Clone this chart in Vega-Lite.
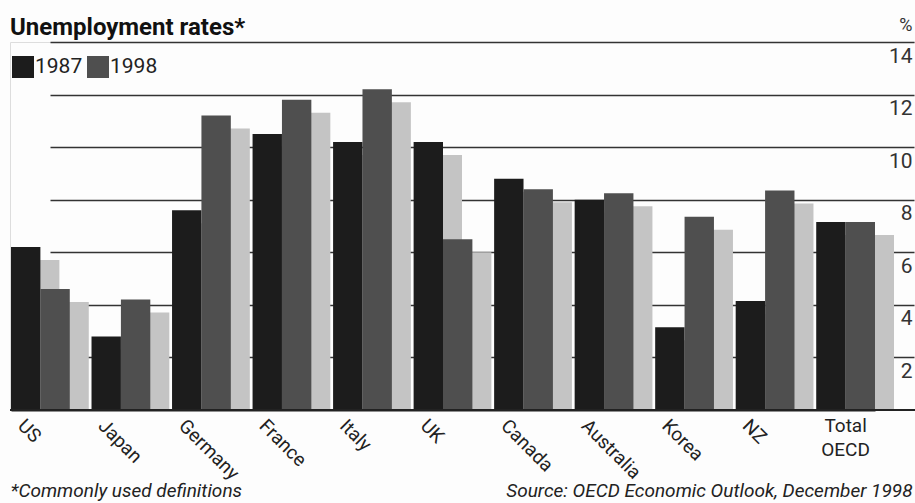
{
  "$schema": "https://vega.github.io/schema/vega-lite/v6.json",
  "autosize": {"type": "none"},
  "padding": {"left": 10, "top": 42, "right": 0, "bottom": 93},
  "width": 905,
  "height": 368,
  "background": "#fdfdfd",
  "title": {
    "text": "Unemployment rates*",
    "anchor": "start",
    "frame": "group",
    "font": "Roboto",
    "fontSize": 24,
    "fontWeight": "bold",
    "color": "#111111",
    "offset": -24
  },
  "data": {
    "values": [
      {"country": "US", "year": "1987", "rate": 6.2},
      {"country": "US", "year": "1998", "rate": 4.6},
      {"country": "Japan", "year": "1987", "rate": 2.8},
      {"country": "Japan", "year": "1998", "rate": 4.2},
      {"country": "Germany", "year": "1987", "rate": 7.6},
      {"country": "Germany", "year": "1998", "rate": 11.2},
      {"country": "France", "year": "1987", "rate": 10.5},
      {"country": "France", "year": "1998", "rate": 11.8},
      {"country": "Italy", "year": "1987", "rate": 10.2},
      {"country": "Italy", "year": "1998", "rate": 12.2},
      {"country": "UK", "year": "1987", "rate": 10.2},
      {"country": "UK", "year": "1998", "rate": 6.5},
      {"country": "Canada", "year": "1987", "rate": 8.8},
      {"country": "Canada", "year": "1998", "rate": 8.4},
      {"country": "Australia", "year": "1987", "rate": 8.0},
      {"country": "Australia", "year": "1998", "rate": 8.25},
      {"country": "Korea", "year": "1987", "rate": 3.15},
      {"country": "Korea", "year": "1998", "rate": 7.35},
      {"country": "NZ", "year": "1987", "rate": 4.15},
      {"country": "NZ", "year": "1998", "rate": 8.35},
      {"country": "Total OECD", "year": "1987", "rate": 7.15},
      {"country": "Total OECD", "year": "1998", "rate": 7.15}
    ]
  },
  "resolve": {
    "scale": {"x": "independent", "y": "independent"},
    "axis": {"x": "independent", "y": "independent"}
  },
  "layer": [
    {
      "mark": {"type": "bar", "color": "#c4c4c4", "yOffset": 13, "y2Offset": 0},
      "encoding": {
        "x": {"field": "country", "type": "nominal", "sort": null,
              "scale": {"range": [20, 884], "paddingInner": 0.27, "paddingOuter": 0}, "axis": null},
        "xOffset": {"field": "year", "type": "nominal", "scale": {"paddingInner": 0, "paddingOuter": 0}},
        "y": {"field": "rate", "type": "quantitative", "scale": {"domain": [0, 14], "nice": false}, "axis": null},
        "y2": {"datum": 0}
      }
    },
    {
      "mark": {"type": "bar"},
      "encoding": {
        "x": {"field": "country", "type": "nominal", "sort": null,
              "scale": {"range": [1, 865], "paddingInner": 0.27, "paddingOuter": 0},
              "axis": {
                "title": "Source: OECD Economic Outlook, December 1998",
                "titleFont": "Roboto",
                "titleFontSize": 19,
                "titleFontStyle": "italic",
                "titleFontWeight": "normal",
                "titleColor": "#222222",
                "titleAnchor": "end",
                "titleAlign": "right",
                "titleBaseline": "middle",
                "titleX": 902,
                "titleY": 80,
                "domain": true,
                "domainColor": "#222222",
                "domainWidth": 2,
                "ticks": false,
                "labelFont": "Roboto",
                "labelFontSize": 19,
                "labelColor": "#222222",
                "labelPadding": 6,
                "labelAngle": {"expr": "datum.value == 'Total OECD' ? 0 : 45"},
                "labelAlign": {"condition": {"test": "datum.value == 'Total OECD'", "value": "center"}, "value": "left"},
                "labelOffset": {"condition": {"test": "datum.value == 'Total OECD'", "value": 0}, "value": -13},
                "labelBaseline": "top",
                "labelExpr": "datum.value == 'Total OECD' ? ['Total', 'OECD'] : datum.label",
                "labelLineHeight": 24
              }},
        "xOffset": {"field": "year", "type": "nominal", "scale": {"paddingInner": 0, "paddingOuter": 0}},
        "y": {"field": "rate", "type": "quantitative",
              "scale": {"domain": [0, 14], "nice": false},
              "axis": {
                "orient": "right",
                "values": [2, 4, 6, 8, 10, 12, 14],
                "title": "%",
                "titleAngle": 0,
                "titleX": -3,
                "titleY": -17,
                "titleAlign": "right",
                "titleBaseline": "middle",
                "titleFont": "Roboto",
                "titleFontSize": 18,
                "titleFontWeight": "normal",
                "titleColor": "#333333",
                "domain": false,
                "ticks": false,
                "grid": true,
                "gridColor": "#333333",
                "gridWidth": 1.5,
                "labelAlign": "right",
                "labelBaseline": "middle",
                "labelPadding": -3,
                "labelOffset": 14,
                "labelFont": "Roboto",
                "labelFontSize": 21,
                "labelColor": "#333333"
              }},
        "color": {"field": "year", "type": "nominal",
                  "scale": {"domain": ["1987", "1998"], "range": ["#1c1c1c", "#4f4f4f"]},
                  "legend": {
                    "orient": "none",
                    "legendX": 2,
                    "legendY": 14,
                    "direction": "horizontal",
                    "title": null,
                    "symbolType": "square",
                    "symbolSize": 484,
                    "symbolStrokeWidth": 0,
                    "symbolOpacity": 1,
                    "labelFont": "Roboto",
                    "labelFontSize": 21,
                    "labelColor": "#222222",
                    "labelOffset": 1,
                    "columnPadding": 4
                  }}
      }
    },
    {
      "mark": {"type": "rule", "color": "#222222", "strokeWidth": 2},
      "encoding": {
        "y": {"datum": 0, "type": "quantitative",
              "scale": {"domain": [0, 14], "nice": false},
              "axis": {
                "orient": "left",
                "title": "*Commonly used definitions",
                "titleAngle": 0,
                "titleX": 0,
                "titleY": 448,
                "titleAlign": "left",
                "titleBaseline": "middle",
                "titleFont": "Roboto",
                "titleFontSize": 19,
                "titleFontStyle": "italic",
                "titleFontWeight": "normal",
                "titleColor": "#222222",
                "labels": false,
                "ticks": false,
                "domain": false,
                "grid": false
              }}
      }
    }
  ]
}
